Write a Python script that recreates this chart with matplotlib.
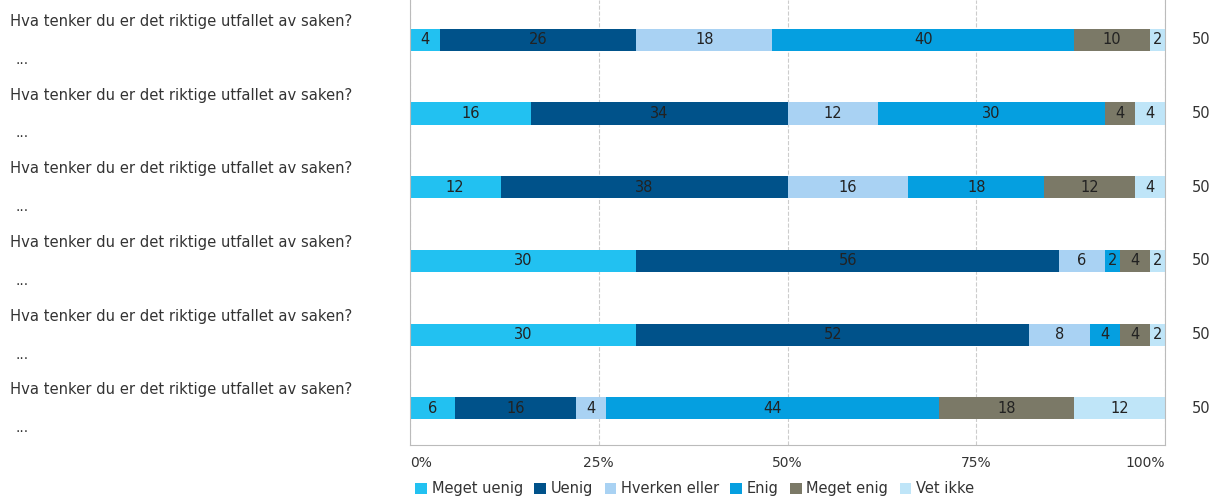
import matplotlib.pyplot as plt
import numpy as np

categories = ["Meget uenig", "Uenig", "Hverken eller", "Enig", "Meget enig", "Vet ikke"]
colors = ["#22c1f1", "#00528a", "#a9d2f3", "#059fe0", "#7b7967", "#bfe5f8"]
question = "Hva tenker du er det riktige utfallet av saken?"
row_labels = [question] * 6
n_values = [50, 50, 50, 50, 50, 50]

meget_uenig = [4, 16, 12, 30, 30, 6]
uenig = [26, 34, 38, 56, 52, 16]
hverken = [18, 12, 16, 6, 8, 4]
enig = [40, 30, 18, 2, 4, 44]
meget_enig = [10, 4, 12, 4, 4, 18]
vet_ikke = [2, 4, 4, 2, 2, 12]
series = [meget_uenig, uenig, hverken, enig, meget_enig, vet_ikke]

fig = plt.figure(figsize=(12.2, 5.03), dpi=100)
ax = fig.add_axes([0.336, 0.115, 0.619, 0.885])

y = np.arange(len(row_labels))
left = np.zeros(len(row_labels))
for name, vals, col in zip(categories, series, colors):
    vals = np.array(vals, dtype=float)
    ax.barh(y, vals, left=left, height=0.30, color=col, label=name)
    for yi, l, v in zip(y, left, vals):
        ax.text(l + v / 2, yi, f"{int(v)}", ha="center", va="center",
                fontsize=10.5, color="#222222")
    left += vals

ax.set_xlim(0, 100)
ax.set_ylim(5.5, -0.54)
ax.set_xticks([0, 25, 50, 75, 100])
ax.set_xticklabels(["0%", "25%", "50%", "75%", "100%"], fontsize=10, color="#333333")
xt = ax.get_xticklabels()
xt[0].set_ha("left")
xt[-1].set_ha("right")
ax.tick_params(axis="x", length=0, pad=8)
ax.set_yticks([])
ax.xaxis.grid(True, linestyle="--", color="#cccccc", linewidth=0.8)
ax.set_axisbelow(True)
for s in ["left", "right", "bottom"]:
    ax.spines[s].set_color("#bbbbbb")
ax.spines["top"].set_visible(False)

for yi, lab, n in zip(y, row_labels, n_values):
    ax.text(-0.530, yi - 0.25, lab, transform=ax.get_yaxis_transform(),
            ha="left", va="center", fontsize=10.6, color="#333333")
    ax.text(-0.522, yi + 0.27, "...", transform=ax.get_yaxis_transform(),
            ha="left", va="center", fontsize=10, color="#333333")
    ax.text(1.048, yi, str(n), transform=ax.get_yaxis_transform(),
            ha="center", va="center", fontsize=10.5, color="#333333")

ax.legend(loc="upper left", bbox_to_anchor=(-0.01, -0.052), ncol=6, frameon=False,
          fontsize=10.5, handlelength=0.8, handleheight=0.8, handletextpad=0.3,
          columnspacing=0.8, labelcolor="#333333")

fig.savefig("out.png", dpi=100)
